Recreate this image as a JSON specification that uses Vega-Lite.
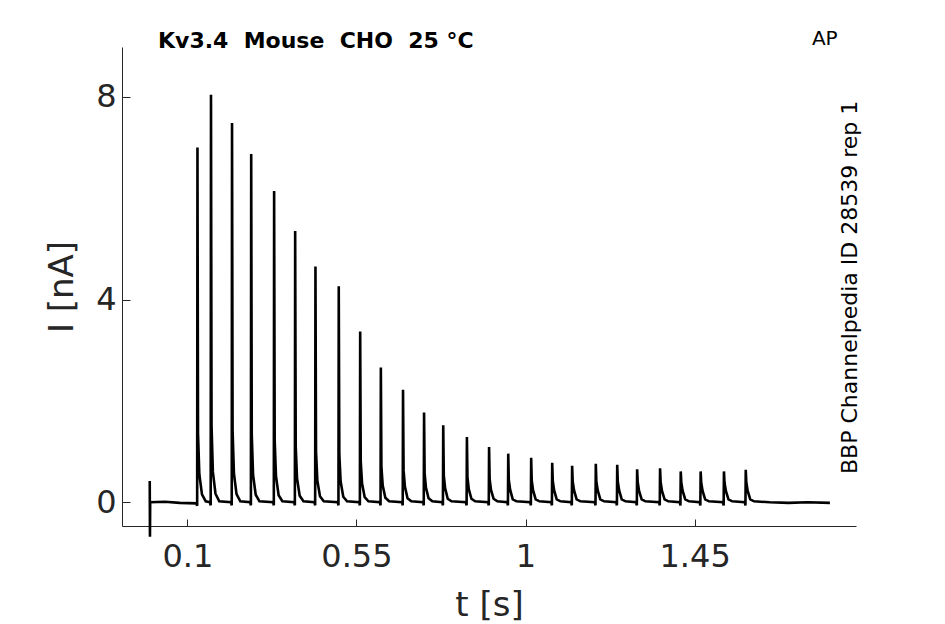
{
  "$schema": "https://vega.github.io/schema/vega-lite/v6.json",
  "width": 734,
  "height": 479,
  "autosize": {"type": "none"},
  "padding": {"left": 122, "top": 47, "right": 89, "bottom": 98},
  "background": "white",
  "title": {
    "text": "Kv3.4\u00a0 Mouse\u00a0 CHO\u00a0 25 °C",
    "anchor": "start",
    "frame": "group",
    "dx": 36,
    "dy": 41,
    "offset": 0,
    "baseline": "alphabetic",
    "font": "DejaVu Sans",
    "fontSize": 22,
    "fontWeight": "bold",
    "color": "black"
  },
  "layer": [
    {
      "data": {
        "values": [
          {"t": 0, "i": 0.42}, {"t": 0.0006, "i": -0.68}, {"t": 0.0012, "i": 0.0},
          {"t": 0.04, "i": 0.01}, {"t": 0.08, "i": -0.01},
          {"t": 0.1245, "i": -0.02}, {"t": 0.1262, "i": -0.07}, {"t": 0.127, "i": 7.0}, {"t": 0.1285, "i": 1.35}, {"t": 0.132, "i": 0.55}, {"t": 0.139, "i": 0.155}, {"t": 0.149, "i": 0.02},
          {"t": 0.1605, "i": 0.0}, {"t": 0.1622, "i": -0.06}, {"t": 0.163, "i": 8.04}, {"t": 0.1645, "i": 1.51}, {"t": 0.168, "i": 0.6}, {"t": 0.175, "i": 0.17}, {"t": 0.185, "i": 0.02},
          {"t": 0.2165, "i": 0.0}, {"t": 0.2182, "i": -0.06}, {"t": 0.219, "i": 7.48}, {"t": 0.2205, "i": 1.42}, {"t": 0.224, "i": 0.57}, {"t": 0.231, "i": 0.16}, {"t": 0.241, "i": 0.02},
          {"t": 0.2675, "i": 0.0}, {"t": 0.2692, "i": -0.06}, {"t": 0.27, "i": 6.87}, {"t": 0.2715, "i": 1.33}, {"t": 0.275, "i": 0.54}, {"t": 0.282, "i": 0.15}, {"t": 0.292, "i": 0.02},
          {"t": 0.3285, "i": 0.0}, {"t": 0.3302, "i": -0.06}, {"t": 0.331, "i": 6.14}, {"t": 0.3325, "i": 1.22}, {"t": 0.336, "i": 0.51}, {"t": 0.343, "i": 0.14}, {"t": 0.353, "i": 0.02},
          {"t": 0.3845, "i": 0.0}, {"t": 0.3862, "i": -0.06}, {"t": 0.387, "i": 5.35}, {"t": 0.3885, "i": 1.1}, {"t": 0.392, "i": 0.47}, {"t": 0.399, "i": 0.13}, {"t": 0.409, "i": 0.02},
          {"t": 0.4385, "i": 0.0}, {"t": 0.4402, "i": -0.06}, {"t": 0.441, "i": 4.65}, {"t": 0.4425, "i": 1.0}, {"t": 0.446, "i": 0.43}, {"t": 0.453, "i": 0.12}, {"t": 0.463, "i": 0.02},
          {"t": 0.5005, "i": 0.0}, {"t": 0.5022, "i": -0.06}, {"t": 0.503, "i": 4.26}, {"t": 0.5045, "i": 0.94}, {"t": 0.508, "i": 0.41}, {"t": 0.515, "i": 0.11}, {"t": 0.525, "i": 0.02},
          {"t": 0.5575, "i": 0.0}, {"t": 0.5592, "i": -0.06}, {"t": 0.56, "i": 3.37}, {"t": 0.5615, "i": 0.81}, {"t": 0.565, "i": 0.37}, {"t": 0.572, "i": 0.1}, {"t": 0.582, "i": 0.02},
          {"t": 0.6125, "i": 0.0}, {"t": 0.6142, "i": -0.06}, {"t": 0.615, "i": 2.66}, {"t": 0.6165, "i": 0.7}, {"t": 0.62, "i": 0.33}, {"t": 0.627, "i": 0.09}, {"t": 0.637, "i": 0.02},
          {"t": 0.6715, "i": 0.0}, {"t": 0.6732, "i": -0.06}, {"t": 0.674, "i": 2.22}, {"t": 0.6755, "i": 0.63}, {"t": 0.679, "i": 0.31}, {"t": 0.686, "i": 0.08}, {"t": 0.696, "i": 0.02},
          {"t": 0.7275, "i": 0.0}, {"t": 0.7292, "i": -0.06}, {"t": 0.73, "i": 1.77}, {"t": 0.7315, "i": 0.57}, {"t": 0.735, "i": 0.29}, {"t": 0.742, "i": 0.08}, {"t": 0.752, "i": 0.02},
          {"t": 0.7785, "i": 0.0}, {"t": 0.7802, "i": -0.06}, {"t": 0.781, "i": 1.52}, {"t": 0.7825, "i": 0.53}, {"t": 0.786, "i": 0.28}, {"t": 0.793, "i": 0.07}, {"t": 0.803, "i": 0.02},
          {"t": 0.8415, "i": 0.0}, {"t": 0.8432, "i": -0.06}, {"t": 0.844, "i": 1.29}, {"t": 0.8455, "i": 0.49}, {"t": 0.849, "i": 0.26}, {"t": 0.856, "i": 0.07}, {"t": 0.866, "i": 0.02},
          {"t": 0.9005, "i": 0.0}, {"t": 0.9022, "i": -0.06}, {"t": 0.903, "i": 1.09}, {"t": 0.9045, "i": 0.46}, {"t": 0.908, "i": 0.25}, {"t": 0.915, "i": 0.07}, {"t": 0.925, "i": 0.02},
          {"t": 0.9515, "i": 0.0}, {"t": 0.9532, "i": -0.06}, {"t": 0.954, "i": 0.96}, {"t": 0.9555, "i": 0.44}, {"t": 0.959, "i": 0.25}, {"t": 0.966, "i": 0.06}, {"t": 0.976, "i": 0.02},
          {"t": 1.0125, "i": 0.0}, {"t": 1.0142, "i": -0.06}, {"t": 1.015, "i": 0.88}, {"t": 1.0165, "i": 0.43}, {"t": 1.02, "i": 0.24}, {"t": 1.027, "i": 0.06}, {"t": 1.037, "i": 0.02},
          {"t": 1.0685, "i": 0.0}, {"t": 1.0702, "i": -0.06}, {"t": 1.071, "i": 0.78}, {"t": 1.0725, "i": 0.42}, {"t": 1.076, "i": 0.24}, {"t": 1.083, "i": 0.06}, {"t": 1.093, "i": 0.02},
          {"t": 1.1215, "i": 0.0}, {"t": 1.1232, "i": -0.06}, {"t": 1.124, "i": 0.72}, {"t": 1.1255, "i": 0.41}, {"t": 1.129, "i": 0.24}, {"t": 1.136, "i": 0.06}, {"t": 1.146, "i": 0.02},
          {"t": 1.1845, "i": 0.0}, {"t": 1.1862, "i": -0.06}, {"t": 1.187, "i": 0.76}, {"t": 1.1885, "i": 0.41}, {"t": 1.192, "i": 0.24}, {"t": 1.199, "i": 0.06}, {"t": 1.209, "i": 0.02},
          {"t": 1.2415, "i": 0.0}, {"t": 1.2432, "i": -0.06}, {"t": 1.244, "i": 0.74}, {"t": 1.2455, "i": 0.41}, {"t": 1.249, "i": 0.24}, {"t": 1.256, "i": 0.06}, {"t": 1.266, "i": 0.02},
          {"t": 1.2945, "i": 0.0}, {"t": 1.2962, "i": -0.06}, {"t": 1.297, "i": 0.65}, {"t": 1.2985, "i": 0.4}, {"t": 1.302, "i": 0.23}, {"t": 1.309, "i": 0.06}, {"t": 1.319, "i": 0.02},
          {"t": 1.3555, "i": 0.0}, {"t": 1.3572, "i": -0.06}, {"t": 1.358, "i": 0.67}, {"t": 1.3595, "i": 0.4}, {"t": 1.363, "i": 0.23}, {"t": 1.37, "i": 0.06}, {"t": 1.38, "i": 0.02},
          {"t": 1.4105, "i": 0.0}, {"t": 1.4122, "i": -0.06}, {"t": 1.413, "i": 0.61}, {"t": 1.4145, "i": 0.39}, {"t": 1.418, "i": 0.23}, {"t": 1.425, "i": 0.06}, {"t": 1.435, "i": 0.02},
          {"t": 1.4635, "i": 0.0}, {"t": 1.4652, "i": -0.06}, {"t": 1.466, "i": 0.61}, {"t": 1.4675, "i": 0.39}, {"t": 1.471, "i": 0.23}, {"t": 1.478, "i": 0.06}, {"t": 1.488, "i": 0.02},
          {"t": 1.5255, "i": 0.0}, {"t": 1.5272, "i": -0.06}, {"t": 1.528, "i": 0.61}, {"t": 1.5295, "i": 0.39}, {"t": 1.533, "i": 0.23}, {"t": 1.54, "i": 0.06}, {"t": 1.55, "i": 0.02},
          {"t": 1.5835, "i": 0.0}, {"t": 1.5852, "i": -0.06}, {"t": 1.586, "i": 0.64}, {"t": 1.5875, "i": 0.4}, {"t": 1.591, "i": 0.23}, {"t": 1.598, "i": 0.06}, {"t": 1.608, "i": 0.02},
          {"t": 1.65, "i": 0.0}, {"t": 1.7, "i": -0.01}, {"t": 1.75, "i": 0.0}, {"t": 1.81, "i": -0.01}
        ]
      },
      "mark": {"type": "line", "color": "black", "strokeWidth": 2.6, "strokeJoin": "miter", "clip": false},
      "encoding": {
        "x": {
          "field": "t",
          "type": "quantitative",
          "scale": {"domain": [-0.0738, 1.8794], "nice": false, "zero": false},
          "axis": {
            "title": "t [s]",
            "values": [0.1, 0.55, 1, 1.45],
            "format": ".2~f",
            "tickSize": -7,
            "labelPadding": 22,
            "titlePadding": 16
          }
        },
        "y": {
          "field": "i",
          "type": "quantitative",
          "scale": {"domain": [-0.467, 8.98], "nice": false, "zero": false},
          "axis": {
            "title": "I [nA]",
            "values": [0, 4, 8],
            "tickSize": -8,
            "labelPadding": 14,
            "titlePadding": 16
          }
        }
      }
    },
    {
      "data": {"values": [{}]},
      "mark": {"type": "text", "font": "DejaVu Sans", "fontSize": 20, "align": "left", "baseline": "alphabetic", "color": "black"},
      "encoding": {
        "x": {"datum": 1.762, "type": "quantitative"},
        "y": {"datum": 9.02, "type": "quantitative"},
        "text": {"value": "AP"}
      }
    },
    {
      "data": {"values": [{}]},
      "mark": {"type": "text", "font": "DejaVu Sans", "fontSize": 22, "align": "center", "baseline": "alphabetic", "angle": 270, "color": "black"},
      "encoding": {
        "x": {"datum": 1.883, "type": "quantitative"},
        "y": {"datum": 4.24, "type": "quantitative"},
        "text": {"value": "BBP Channelpedia ID 28539 rep 1"}
      }
    }
  ],
  "config": {
    "view": {"stroke": null},
    "font": "DejaVu Sans",
    "axis": {
      "grid": false,
      "domainColor": "#262626",
      "domainWidth": 1,
      "tickColor": "#262626",
      "tickWidth": 1,
      "labelFont": "DejaVu Sans",
      "labelFontSize": 32,
      "labelColor": "#262626",
      "labelFontWeight": "normal",
      "titleFont": "DejaVu Sans",
      "titleFontSize": 34,
      "titleFontWeight": "normal",
      "titleColor": "#262626"
    }
  }
}
